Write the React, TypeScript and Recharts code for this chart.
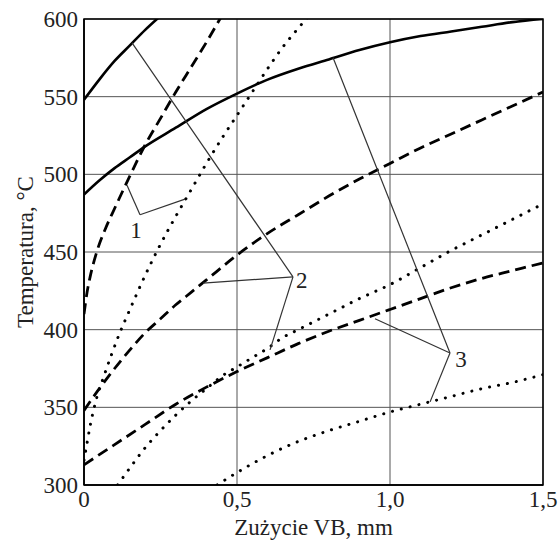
import {
  LineChart,
  Line,
  XAxis,
  YAxis,
  CartesianGrid,
  ReferenceArea,
  ReferenceLine,
  ReferenceDot,
} from 'recharts';

// wear VB [mm] -> temperature [°C]
const solidUpperX = [0, 0.05, 0.1, 0.15, 0.2, 0.25];
const solidUpperT = [548, 561, 573, 583, 593, 602];

const solidLowerX = [0, 0.05, 0.1, 0.15, 0.2, 0.3, 0.4, 0.5, 0.6, 0.7, 0.8, 0.9, 1.0, 1.1, 1.2, 1.3, 1.4, 1.5];
const solidLowerT = [487, 496, 504, 511, 518, 530, 542, 552, 561, 568, 574, 580, 585, 589, 592, 595, 598, 600];

const dashedUpperX = [0, 0.01, 0.02, 0.04, 0.07, 0.1, 0.15, 0.2, 0.25, 0.3, 0.35, 0.4, 0.45];
const dashedUpperT = [410, 424, 434, 449, 465, 478, 499, 519, 536, 553, 569, 585, 602];

const dashedMidX = [0, 0.05, 0.1, 0.15, 0.2, 0.25, 0.3, 0.35, 0.4, 0.5, 0.6, 0.7, 0.8, 0.9, 1.0, 1.1, 1.2, 1.3, 1.4, 1.5];
const dashedMidT = [348, 362, 375, 387, 398, 407, 416, 424, 432, 448, 462, 474, 486, 497, 507, 517, 526, 535, 544, 553];

const dashedLowX = [0, 0.1, 0.2, 0.3, 0.4, 0.5, 0.6, 0.7, 0.8, 0.9, 1.0, 1.1, 1.2, 1.3, 1.4, 1.5];
const dashedLowT = [313, 326, 339, 352, 363, 373, 382, 391, 399, 406, 413, 420, 427, 433, 438, 443];

const dottedUpperX = [0, 0.01, 0.02, 0.04, 0.065, 0.09, 0.115, 0.15, 0.2, 0.25, 0.3, 0.35, 0.4, 0.45, 0.5, 0.55, 0.6, 0.65, 0.7, 0.73];
const dottedUpperT = [316, 327, 338, 355, 370, 384, 397, 413, 435, 455, 473, 490, 507, 523, 538, 553, 568, 582, 594, 601];

const dottedMidX = [0.11, 0.15, 0.2, 0.25, 0.3, 0.35, 0.4, 0.45, 0.5, 0.55, 0.6, 0.65, 0.7, 0.8, 0.9, 1.0, 1.1, 1.2, 1.3, 1.4, 1.5];
const dottedMidT = [300, 311, 324, 335, 345, 354, 362, 370, 376, 382, 388, 395, 400, 410, 420, 429, 440, 451, 461, 471, 481];

const dottedLowX = [0.435, 0.5, 0.6, 0.7, 0.8, 0.9, 1.0, 1.1, 1.2, 1.3, 1.4, 1.5];
const dottedLowT = [300, 308, 319, 328, 335, 341, 347, 352, 357, 362, 366, 371];

const xTicks = [0, 0.5, 1, 1.5];
const xTickLabels = ['0', '0,5', '1,0', '1,5'];
const yTicks = [300, 350, 400, 450, 500, 550, 600];

// leader lines: [x, T] polylines, label position
const leader1 = [[0.1405, 493], [0.183, 474], [0.33, 484]];
const leader2Vertex = [0.683, 434];
const leader2Ends = [[0.157, 584.6], [0.389, 430], [0.608, 387]];
const leader3Vertex = [1.196, 385];
const leader3Ends = [[0.814, 575], [0.951, 407], [1.131, 353.5]];
const labelPos = [
  { text: '1', x: 0.17, y: 464.5 },
  { text: '2', x: 0.712, y: 432 },
  { text: '3', x: 1.232, y: 381 },
];

const toPoints = (xs: number[], ts: number[]) => xs.map((x, i) => ({ x, y: ts[i] }));

const FONT = "'Liberation Serif', 'Times New Roman', serif";
const INK = '#222';

const segments: { x: number; y: number }[][] = [];
for (let i = 0; i < leader1.length - 1; i++) {
  segments.push([
    { x: leader1[i][0], y: leader1[i][1] },
    { x: leader1[i + 1][0], y: leader1[i + 1][1] },
  ]);
}
leader2Ends.forEach((p) =>
  segments.push([{ x: p[0], y: p[1] }, { x: leader2Vertex[0], y: leader2Vertex[1] }])
);
leader3Ends.forEach((p) =>
  segments.push([{ x: p[0], y: p[1] }, { x: leader3Vertex[0], y: leader3Vertex[1] }])
);

const solid = { strokeWidth: 2.6 };
const dashed = { strokeWidth: 2.8, strokeDasharray: '11 6' };
const dotted = { strokeWidth: 3, strokeDasharray: '0.1 9', strokeLinecap: 'round' as const };

const series = [
  { id: 's1', pts: toPoints(solidUpperX, solidUpperT), style: solid },
  { id: 's2', pts: toPoints(solidLowerX, solidLowerT), style: solid },
  { id: 'd1', pts: toPoints(dashedUpperX, dashedUpperT), style: dashed },
  { id: 'd2', pts: toPoints(dashedMidX, dashedMidT), style: dashed },
  { id: 'd3', pts: toPoints(dashedLowX, dashedLowT), style: dashed },
  { id: 'o1', pts: toPoints(dottedUpperX, dottedUpperT), style: dotted },
  { id: 'o2', pts: toPoints(dottedMidX, dottedMidT), style: dotted },
  { id: 'o3', pts: toPoints(dottedLowX, dottedLowT), style: dotted },
];

const App = () => {
  return (
    <div style={{ position: 'absolute', left: 0, top: 0, background: '#fff' }}>
      <LineChart
        width={560}
        height={543}
        margin={{ top: 19, right: 17, left: 0, bottom: 0 }}
      >
        <CartesianGrid stroke='#555' strokeWidth={1} />
        <XAxis
          type='number'
          dataKey='x'
          domain={[0, 1.5]}
          ticks={xTicks}
          interval={0}
          tickFormatter={(v: number) => xTickLabels[xTicks.indexOf(v)]}
          tickLine={false}
          tickMargin={0}
          axisLine={{ stroke: '#000', strokeWidth: 1.5 }}
          height={58}
          tick={{ fontSize: 23, fill: INK, fontFamily: FONT }}
          allowDataOverflow
          label={{
            value: 'Zużycie VB, mm',
            position: 'center',
            dy: 13,
            fontSize: 23,
            fill: INK,
            stroke: 'none',
            fontFamily: FONT,
          }}
        />
        <YAxis
          type='number'
          domain={[300, 600]}
          ticks={yTicks}
          interval={0}
          tickLine={false}
          tickMargin={0}
          axisLine={{ stroke: '#000', strokeWidth: 1.5 }}
          width={84}
          tick={{ fontSize: 23, fill: INK, fontFamily: FONT }}
          allowDataOverflow
          label={{
            value: 'Temperatura, °C',
            angle: -90,
            position: 'center',
            dx: -17,
            fontSize: 23,
            fill: INK,
            stroke: 'none',
            fontFamily: FONT,
          }}
        />
        <ReferenceArea
          x1={0}
          x2={1.5}
          y1={300}
          y2={600}
          fill='none'
          stroke='#000'
          strokeWidth={1.5}
        />
        {series.map((s) => (
          <Line
            key={s.id}
            data={s.pts}
            dataKey='y'
            type='monotone'
            stroke='#000'
            dot={false}
            activeDot={false}
            isAnimationActive={false}
            {...s.style}
          />
        ))}
        {segments.map((seg, i) => (
          <ReferenceLine
            key={'seg' + i}
            segment={seg}
            stroke='#333'
            strokeWidth={1.2}
            ifOverflow='visible'
          />
        ))}
        {labelPos.map((l) => (
          <ReferenceDot
            key={l.text}
            x={l.x}
            y={l.y}
            r={0}
            fill='none'
            stroke='none'
            label={{
              value: l.text,
              position: 'center',
              fontSize: 23,
              fill: INK,
              fontFamily: FONT,
            }}
          />
        ))}
      </LineChart>
    </div>
  );
};

export default App;
